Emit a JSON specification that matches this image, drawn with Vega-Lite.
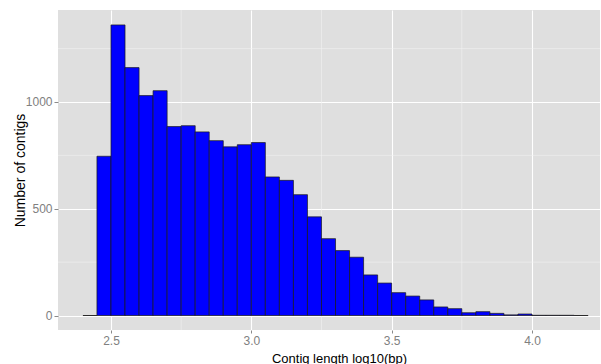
{
  "$schema": "https://vega.github.io/schema/vega-lite/v6.json",
  "width": 542,
  "height": 320,
  "autosize": {"type": "none"},
  "padding": {"left": 58, "top": 10, "right": 1, "bottom": 34},
  "background": "white",
  "config": {
    "view": {"fill": "#DFDFDF", "stroke": null},
    "font": "Liberation Sans"
  },
  "datasets": {
    "bins": [
      {"start": 2.40, "end": 2.45, "count": 0},
      {"start": 2.45, "end": 2.50, "count": 746},
      {"start": 2.50, "end": 2.55, "count": 1361},
      {"start": 2.55, "end": 2.60, "count": 1161},
      {"start": 2.60, "end": 2.65, "count": 1030},
      {"start": 2.65, "end": 2.70, "count": 1053},
      {"start": 2.70, "end": 2.75, "count": 885},
      {"start": 2.75, "end": 2.80, "count": 889},
      {"start": 2.80, "end": 2.85, "count": 860},
      {"start": 2.85, "end": 2.90, "count": 819},
      {"start": 2.90, "end": 2.95, "count": 790},
      {"start": 2.95, "end": 3.00, "count": 800},
      {"start": 3.00, "end": 3.05, "count": 810},
      {"start": 3.05, "end": 3.10, "count": 649},
      {"start": 3.10, "end": 3.15, "count": 633},
      {"start": 3.15, "end": 3.20, "count": 566},
      {"start": 3.20, "end": 3.25, "count": 462},
      {"start": 3.25, "end": 3.30, "count": 360},
      {"start": 3.30, "end": 3.35, "count": 304},
      {"start": 3.35, "end": 3.40, "count": 273},
      {"start": 3.40, "end": 3.45, "count": 190},
      {"start": 3.45, "end": 3.50, "count": 152},
      {"start": 3.50, "end": 3.55, "count": 107},
      {"start": 3.55, "end": 3.60, "count": 91},
      {"start": 3.60, "end": 3.65, "count": 73},
      {"start": 3.65, "end": 3.70, "count": 40},
      {"start": 3.70, "end": 3.75, "count": 32},
      {"start": 3.75, "end": 3.80, "count": 13},
      {"start": 3.80, "end": 3.85, "count": 18},
      {"start": 3.85, "end": 3.90, "count": 10},
      {"start": 3.90, "end": 3.95, "count": 3},
      {"start": 3.95, "end": 4.00, "count": 7},
      {"start": 4.00, "end": 4.05, "count": 1},
      {"start": 4.05, "end": 4.10, "count": 1},
      {"start": 4.10, "end": 4.15, "count": 1},
      {"start": 4.15, "end": 4.20, "count": 0}
    ],
    "minorX": [{"v": 2.75}, {"v": 3.25}, {"v": 3.75}],
    "minorY": [{"v": 250}, {"v": 750}, {"v": 1250}]
  },
  "layer": [
    {
      "data": {"name": "minorX"},
      "mark": {"type": "rule", "color": "#F2F2F2", "strokeWidth": 0.6},
      "encoding": {
        "x": {"field": "v", "type": "quantitative", "title": "Contig length log10(bp)",
              "scale": {"domain": [2.3112, 4.2423], "nice": false, "zero": false}}
      }
    },
    {
      "data": {"name": "minorY"},
      "mark": {"type": "rule", "color": "#F2F2F2", "strokeWidth": 0.6},
      "encoding": {
        "y": {"field": "v", "type": "quantitative", "title": "Number of contigs",
              "scale": {"domain": [-67.9, 1430.9], "nice": false, "zero": false}}
      }
    },
    {
      "data": {"name": "bins"},
      "mark": {"type": "rect", "fill": "#0000FF", "stroke": "#1a1a1a", "strokeWidth": 0.7},
      "encoding": {
        "x": {
          "field": "start", "type": "quantitative",
          "title": "Contig length log10(bp)",
          "scale": {"domain": [2.3112, 4.2423], "nice": false, "zero": false},
          "axis": {
            "values": [2.5, 3.0, 3.5, 4.0], "format": ".1f",
            "grid": true, "gridColor": "white", "gridWidth": 1.1,
            "domain": false, "tickColor": "#8a8a8a", "tickSize": 3,
            "labelColor": "#808080", "labelFontSize": 12, "labelPadding": 2,
            "titleColor": "black", "titleFontSize": 13, "titleFontWeight": "normal",
            "titleBaseline": "alphabetic", "titleY": 32, "titleX": 281
          }
        },
        "x2": {"field": "end"},
        "y": {
          "field": "count", "type": "quantitative",
          "title": "Number of contigs",
          "scale": {"domain": [-67.9, 1430.9], "nice": false, "zero": false},
          "axis": {
            "values": [0, 500, 1000], "format": "d",
            "grid": true, "gridColor": "white", "gridWidth": 1.1,
            "domain": false, "tickColor": "#8a8a8a", "tickSize": 4,
            "labelColor": "#808080", "labelFontSize": 12, "labelPadding": 2,
            "titleColor": "black", "titleFontSize": 14, "titleFontWeight": "normal",
            "titleBaseline": "alphabetic", "titleX": -34
          }
        },
        "y2": {"datum": 0}
      }
    }
  ]
}
